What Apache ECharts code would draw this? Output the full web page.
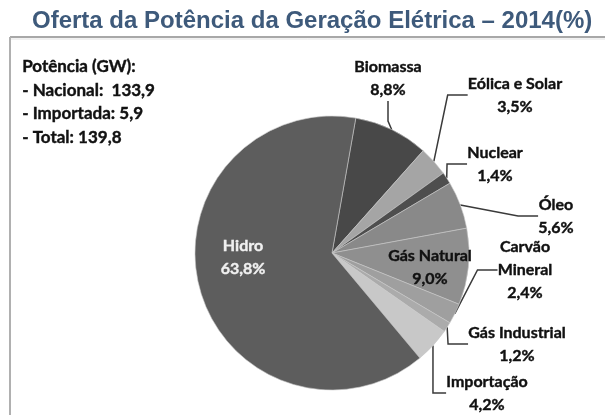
<!DOCTYPE html>
<html>
<head>
<meta charset="utf-8">
<script src="https://cdn.jsdelivr.net/npm/echarts@6/dist/echarts.min.js"></script>
<style>
  html, body { margin: 0; padding: 0; background: #fff; }
  #chart { width: 605px; height: 415px; }
</style>
</head>
<body>
<div id="chart"></div>
<script>
// fatias no sentido horário a partir do topo
const categories = ["Biomassa", "Eólica e Solar", "Nuclear", "Óleo", "Gás Natural",
  "Carvão\nMineral", "Gás Industrial", "Importação", "Hidro"];
const values = [8.8, 3.5, 1.4, 5.6, 9.0, 2.4, 1.2, 4.2, 63.8];
const sliceColors = ["#484848", "#a5a5a5", "#4e4e4e", "#898989", "#8f8f8f",
  "#9f9f9f", "#ababab", "#c8c8c8", "#5d5d5d"];
const infoLines = ["Potência (GW):", "- Nacional:  133,9", "- Importada: 5,9", "- Total: 139,8"];

// posição central de cada rótulo (px)
const labelPos = [
  [388, 78], [515, 95], [495, 164], [556, 216], [430, 267],
  [525, 270], [517, 344], [487, 393], [243, 257]
];
const insideLabels = ["Gás Natural", "Hidro"];

const fmt = v => v.toFixed(1).replace(".", ",") + "%";

const chart = echarts.init(document.getElementById("chart"));

const option = {
  animation: false,
  title: {
    text: "Oferta da Potência da Geração Elétrica – 2014(%)",
    left: 27,
    top: 4,
    textStyle: {
      fontFamily: "Liberation Sans",
      fontWeight: "bold",
      fontSize: 24,
      color: "#3e5a7b"
    }
  },
  graphic: [
    { type: "line", shape: { x1: 10, y1: 37, x2: 605, y2: 37 }, style: { stroke: "#a8a8a8", lineWidth: 2 } },
    { type: "line", shape: { x1: 10, y1: 39, x2: 605, y2: 39 }, style: { stroke: "#e2e2e2", lineWidth: 1 } },
    { type: "line", shape: { x1: 10, y1: 37, x2: 10, y2: 415 }, style: { stroke: "#b0b0b0", lineWidth: 2 } },
    {
      type: "text",
      left: 22,
      top: 55,
      style: {
        text: infoLines.join("\n"),
        font: "bold 17px Lato",
        lineHeight: 23.5,
        fill: "#111",
        stroke: "#111",
        lineWidth: 0.4
      }
    }
  ],
  series: [
    {
      type: "pie",
      center: [332, 253],
      radius: 137,
      startAngle: 80,
      clockwise: true,
      avoidLabelOverlap: false,
      itemStyle: { borderColor: "#c8c8c8", borderWidth: 0.6 },
      label: {
        show: true,
        position: "outside",
        formatter: p => p.name + "\n" + fmt(p.value),
        fontFamily: "Lato",
        fontWeight: "bold",
        fontSize: 16,
        lineHeight: 23,
        color: "#111",
        textBorderColor: "#111",
        textBorderWidth: 0.4,
        align: "center"
      },
      labelLine: {
        show: true,
        length: 15,
        length2: 20,
        lineStyle: { color: "#3a3a3a", width: 1.5 }
      },
      labelLayout: p => {
        const pos = labelPos[p.dataIndex];
        return { x: pos[0], y: pos[1], align: "center", verticalAlign: "middle" };
      },
      data: categories.map((name, i) => {
        const d = { name: name, value: values[i], itemStyle: { color: sliceColors[i] } };
        if (insideLabels.includes(name)) {
          const c = name === "Hidro" ? "#f0f0f0" : "#111";
          d.label = { position: "inside", color: c, textBorderColor: c };
          d.labelLine = { show: false };
        }
        return d;
      })
    }
  ]
};

chart.setOption(option);
window.addEventListener("resize", function() {
  chart.resize();
});
</script>
</body>
</html>
